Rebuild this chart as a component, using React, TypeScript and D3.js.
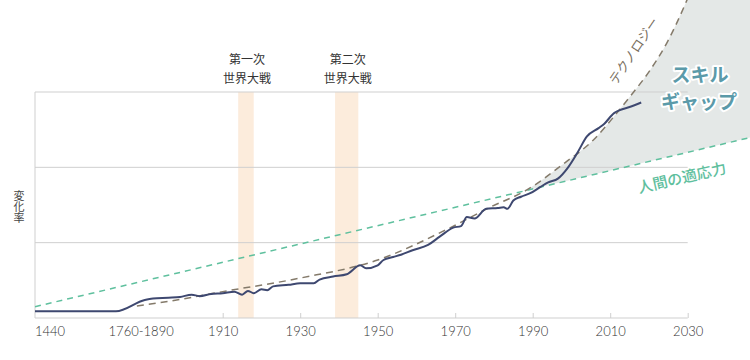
import React, { useEffect, useRef } from 'react';
import * as d3 from 'd3';

type Pt = [number, number];

// x-axis tick years and extra labels
const tickYears = [1910, 1930, 1950, 1970, 1990, 2010, 2030];
const extraLabels: { label: string; year: number; anchor: string }[] = [
  { label: '1440', year: 1440, anchor: 'start' },
  { label: '1760-1890', year: 1872, anchor: 'middle' },
];
const gridValues = [1, 2, 3];

// world wars
const wars: { name: string; from: number; to: number }[] = [
  { name: '第一次', from: 1914, to: 1918 },
  { name: '第二次', from: 1939, to: 1945 },
];

// rate of change: observed
const actualSeries: Pt[] = [
  [1440, 0.09], [1760, 0.09], [1888, 0.24], [1892, 0.26], [1896, 0.27], [1899, 0.28],
  [1902, 0.31], [1904, 0.29], [1907, 0.32], [1910, 0.33], [1913, 0.35], [1915, 0.31],
  [1916.5, 0.36], [1918, 0.33], [1920, 0.38], [1921.5, 0.37], [1923, 0.42], [1927, 0.44],
  [1930, 0.46], [1933.5, 0.46], [1935, 0.51], [1938.5, 0.55], [1942, 0.58], [1945.5, 0.70],
  [1947, 0.66], [1950, 0.70], [1951.5, 0.77], [1954, 0.81], [1956, 0.84], [1959, 0.90],
  [1963, 0.97], [1966, 1.08], [1969.5, 1.20], [1971.5, 1.22], [1973, 1.34], [1975, 1.32],
  [1978, 1.45], [1981, 1.46], [1982.5, 1.47], [1983.5, 1.45], [1985, 1.56], [1987, 1.61],
  [1989.5, 1.66], [1992, 1.74], [1994, 1.80], [1996.5, 1.85], [1999, 1.99], [2001.5, 2.19],
  [2004, 2.41], [2007, 2.52], [2008.5, 2.58], [2011, 2.72], [2012.5, 2.76], [2015, 2.80],
  [2018, 2.86],
];

// technology trend (dashed)
const techSeries: Pt[] = [
  [1853, 0.16], [1897, 0.23], [1910, 0.35], [1930, 0.53], [1950, 0.77], [1968, 1.18],
  [1979, 1.47], [1988.5, 1.70], [1998.3, 2.06], [2005.6, 2.36], [2011.7, 2.72],
  [2015.9, 2.99], [2020.3, 3.29], [2024.6, 3.65], [2029.8, 4.22], [2031.4, 4.42],
];

// human adaptability (dashed straight line)
const humanSeries: Pt[] = [[1440, 0.15], [2046.5, 2.4]];

const W = 750;
const H = 360;

const App: React.FC = () => {
  const svgRef = useRef<SVGSVGElement>(null);

  useEffect(() => {
    if (!svgRef.current) return;
    const svg = d3.select(svgRef.current);
    svg.selectAll('*').remove();

    const left = 35, right = 687.7, top = 92, bottom = 318;

    // compressed early history, then linear years
    const x = d3.scaleLinear()
      .domain([1440, 1760, 1890, 2030])
      .range([left, 116, 145.2, right]);
    const y = d3.scaleLinear().domain([0, 3]).range([bottom, top]);

    const jp = '"Noto Sans CJK JP", sans-serif';
    const line = d3.line<Pt>().x(d => x(d[0])).y(d => y(d[1]));

    // skill gap fill: above human line and right of tech curve
    const techPath = line.curve(d3.curveMonotoneX)(techSeries) as string;
    const tFirst = techSeries[0];
    const tLast = techSeries[techSeries.length - 1];
    svg.append('defs').append('clipPath').attr('id', 'tech-clip')
      .append('path')
      .attr('d', `${techPath}L${W},${y(tLast[1])}L${W},${H}L${x(tFirst[0])},${H}Z`);

    const humanArea = d3.area<Pt>().x(d => x(d[0])).y0(-30).y1(d => y(d[1]));
    svg.append('path')
      .datum(humanSeries)
      .attr('d', humanArea)
      .attr('fill', '#e4e8e7')
      .attr('clip-path', 'url(#tech-clip)');

    // war bands
    svg.append('g').selectAll('rect').data(wars).join('rect')
      .attr('x', d => x(d.from))
      .attr('width', d => x(d.to) - x(d.from))
      .attr('y', top)
      .attr('height', bottom - top)
      .attr('fill', '#fcecdc');

    const wl = svg.append('g').attr('font-family', jp).attr('font-size', 12)
      .attr('fill', '#333').attr('text-anchor', 'middle');
    wars.forEach(w => {
      const cx = (x(w.from) + x(w.to)) / 2 + 1;
      wl.append('text').attr('x', cx).attr('y', 64).text(w.name);
      wl.append('text').attr('x', cx).attr('y', 83).text('世界大戦');
    });

    // gridlines
    svg.append('g').selectAll('line').data(gridValues).join('line')
      .attr('x1', left).attr('x2', right)
      .attr('y1', d => y(d)).attr('y2', d => y(d))
      .attr('stroke', '#cfcfcf');
    svg.append('line')
      .attr('x1', left).attr('x2', left).attr('y1', top).attr('y2', bottom)
      .attr('stroke', '#cfcfcf');

    // x axis
    const ax = svg.append('g')
      .attr('transform', `translate(0,${bottom})`)
      .call(d3.axisBottom(x).tickValues(tickYears).tickSize(-5).tickPadding(9)
        .tickFormat(d3.format('d')));
    ax.select('.domain').remove();
    ax.append('line').attr('x1', left).attr('x2', right).attr('stroke', '#cfcfcf');
    ax.selectAll('.tick line').attr('stroke', '#cfcfcf');
    ax.selectAll('.tick text')
      .attr('fill', '#333').attr('font-size', 13).attr('font-family', 'Lato, sans-serif')
      .attr('font-weight', 300);
    extraLabels.forEach(l => {
      ax.append('text')
        .attr('x', x(l.year)).attr('y', 9).attr('dy', '0.71em')
        .attr('text-anchor', l.anchor)
        .attr('fill', '#333').attr('font-size', 13).attr('font-family', 'Lato, sans-serif')
        .attr('font-weight', 300)
        .text(l.label);
    });

    // y axis label (vertical writing)
    svg.append('text')
      .attr('x', 19).attr('y', 207)
      .attr('writing-mode', 'vertical-rl')
      .style('writing-mode', 'vertical-rl')
      .attr('text-anchor', 'middle')
      .attr('font-family', jp).attr('font-size', 11)
      .attr('fill', '#444')
      .text('変化率');

    // lines
    svg.append('path')
      .datum(humanSeries)
      .attr('d', d3.line<Pt>().x(d => x(d[0])).y(d => y(d[1])))
      .attr('fill', 'none')
      .attr('stroke', '#5fc09e')
      .attr('stroke-width', 1.5)
      .attr('stroke-dasharray', '6,5');

    svg.append('path')
      .attr('d', techPath)
      .attr('fill', 'none')
      .attr('stroke', '#847a6a')
      .attr('stroke-width', 1.5)
      .attr('stroke-dasharray', '7,5');

    svg.append('path')
      .datum(actualSeries)
      .attr('d', d3.line<Pt>().x(d => x(d[0])).y(d => y(d[1])).curve(d3.curveMonotoneX))
      .attr('fill', 'none')
      .attr('stroke', '#3e4870')
      .attr('stroke-width', 2);

    // annotations
    svg.append('text')
      .attr('transform', 'translate(634,51) rotate(-56)')
      .attr('text-anchor', 'middle').attr('dy', '0.35em')
      .attr('font-family', jp).attr('font-size', 13).attr('fill', '#7a705f')
      .text('テクノロジー');

    const gap = svg.append('g')
      .attr('font-family', jp).attr('font-size', 19).attr('font-weight', 700)
      .attr('fill', '#5b9aa9').attr('text-anchor', 'middle')
      .attr('stroke', '#fff').attr('stroke-width', 4).attr('paint-order', 'stroke')
      .attr('stroke-linejoin', 'round');
    gap.append('text').attr('x', 700).attr('y', 82).text('スキル');
    gap.append('text').attr('x', 699).attr('y', 109).text('ギャップ');

    svg.append('text')
      .attr('transform', 'translate(682,178) rotate(-13)')
      .attr('text-anchor', 'middle').attr('dy', '0.35em')
      .attr('font-family', jp).attr('font-size', 15).attr('font-weight', 500)
      .attr('fill', '#5fc09e')
      .text('人間の適応力');
  }, []);

  return (
    <div>
      <style>{'body{margin:0}'}</style>
      <svg ref={svgRef} width={W} height={H} style={{ display: 'block' }} />
    </div>
  );
};

export default App;
